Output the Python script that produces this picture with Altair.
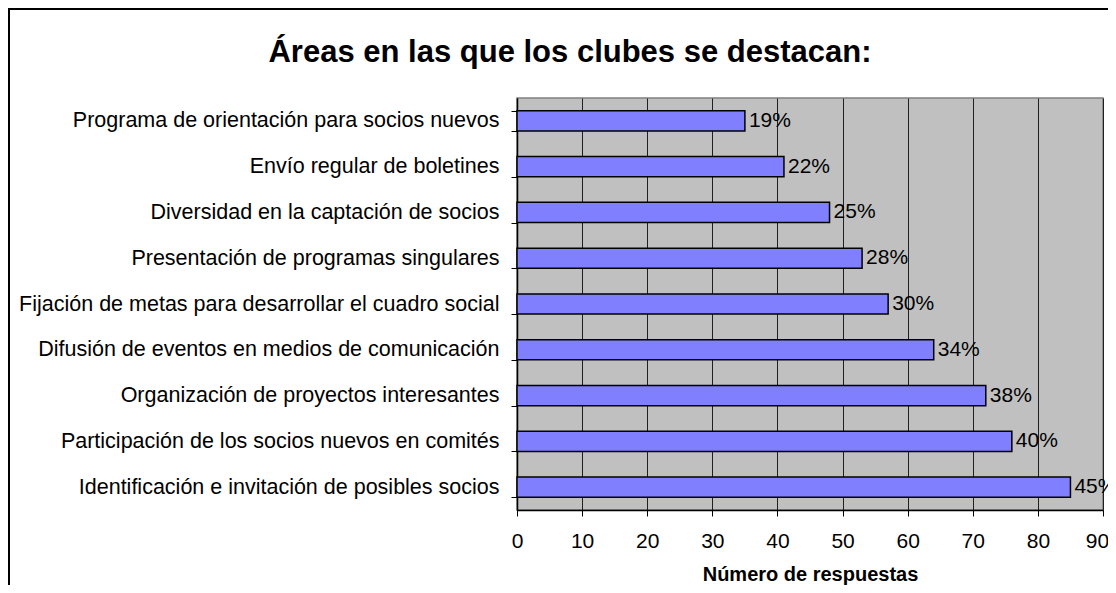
import altair as alt
import pandas as pd

categories = [
    "Programa de orientación para socios nuevos",
    "Envío regular de boletines",
    "Diversidad en la captación de socios ",
    "Presentación de programas singulares",
    "Fijación de metas para desarrollar el cuadro social",
    "Difusión de eventos en medios de comunicación",
    "Organización de proyectos interesantes",
    "Participación de los socios nuevos en comités",
    "Identificación e invitación de posibles socios",
]
responses = [35, 41, 48, 53, 57, 64, 72, 76, 85]
pct_labels = ["19%", "22%", "25%", "28%", "30%", "34%", "38%", "40%", "45%"]
x_ticks = [0, 10, 20, 30, 40, 50, 60, 70, 80, 90]

df = pd.DataFrame({"area": categories, "n": responses, "pct": pct_labels})

FONT = "Liberation Sans"

x_enc = alt.X(
    "n:Q",
    scale=alt.Scale(domain=[0, 90], nice=False, zero=True),
    axis=alt.Axis(
        values=x_ticks,
        title="Número de respuestas",
        titleFont=FONT,
        titleFontSize=20,
        titleFontWeight="bold",
        titleColor="black",
        titleBaseline="alphabetic",
        titleY=70,
        labelFont=FONT,
        labelFontSize=21,
        labelColor="black",
        labelBaseline="middle",
        labelPadding=25,
        labelOffset={"condition": {"test": "datum.value === 90", "value": -6}, "value": 0},
        tickSize=6,
        tickColor="black",
        tickWidth=1,
        domainColor="black",
        domainWidth=1.5,
        grid=True,
        gridColor="#202020",
        gridWidth=1,
        labelFlush=False,
    ),
)
y_enc = alt.Y(
    "area:N",
    sort=None,
    scale=alt.Scale(paddingInner=0.56, paddingOuter=0.28),
    axis=alt.Axis(
        title=None,
        labelFont=FONT,
        labelFontSize=21.5,
        labelColor="black",
        labelPadding=12,
        labelLimit=700,
        tickBand="extent",
        tickSize=6,
        tickColor="black",
        tickWidth=1,
        domainColor="black",
        domainWidth=1.5,
        grid=False,
    ),
)

base = alt.Chart(df)

bars = base.mark_bar(fill="#8080FF", stroke="black", strokeWidth=1.5).encode(
    x=x_enc, y=y_enc
)

labels = base.mark_text(
    align="left", baseline="middle", dx=4, font=FONT, fontSize=21, color="black"
).encode(x="n:Q", y=alt.Y("area:N", sort=None), text="pct:N")

border = alt.Chart(pd.DataFrame({"b": [0]})).mark_rect(
    fill="transparent", stroke="black", strokeWidth=2
).encode(
    x=alt.value(-508), x2=alt.value(640), y=alt.value(-89), y2=alt.value(640)
)

chart = (
    alt.layer(bars, labels, border)
    .properties(
        width=586,
        height=412,
        autosize=alt.AutoSizeParams(type="none"),
        padding={"left": 509, "top": 90, "right": 5, "bottom": 75},
        title=alt.TitleParams(
            "Áreas en las que los clubes se destacan:",
            font=FONT,
            fontSize=31,
            fontWeight="bold",
            color="black",
            anchor="middle",
            frame="group",
            dx=-240,
            dy=122,
            baseline="alphabetic",
            offset=37,
        ),
    )
    .configure_view(fill="#C0C0C0", stroke="#808080", strokeWidth=1.5)
)

chart.save("out.html", embed_options={"renderer": "svg", "actions": False})
